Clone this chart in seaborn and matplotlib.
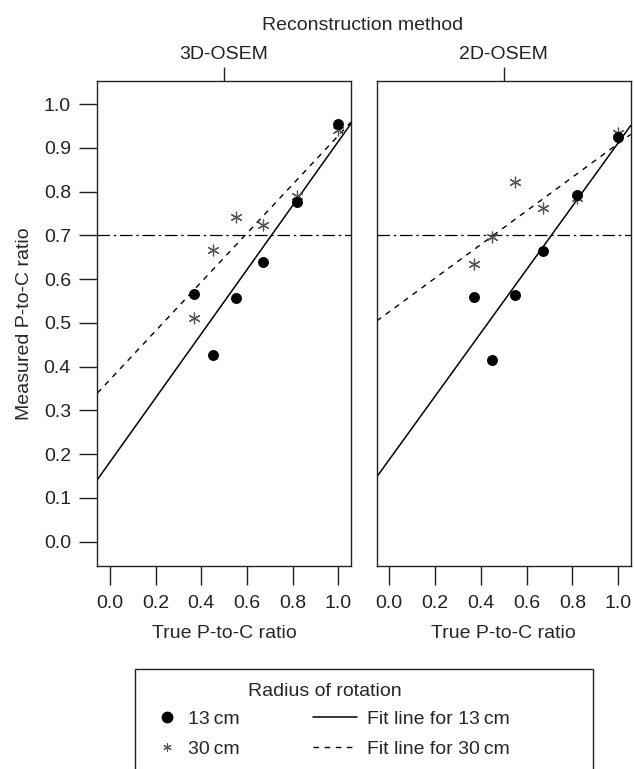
import numpy as np
import pandas as pd
import matplotlib
matplotlib.use("Agg")
import matplotlib.pyplot as plt
from matplotlib.lines import Line2D
from matplotlib.patches import Rectangle
import seaborn as sns

# values
methods = ["3D-OSEM", "2D-OSEM"]
true_ratio = [0.37, 0.45, 0.55, 0.67, 0.82, 1.0]
osem3d_13cm = [0.566, 0.427, 0.557, 0.640, 0.777, 0.954]
osem3d_30cm = [0.511, 0.667, 0.743, 0.724, 0.789, 0.941]
osem2d_13cm = [0.559, 0.414, 0.563, 0.664, 0.793, 0.926]
osem2d_30cm = [0.634, 0.697, 0.823, 0.762, 0.785, 0.935]
reference_ratio = 0.7
y_ticks = [0.0, 0.1, 0.2, 0.3, 0.4, 0.5, 0.6, 0.7, 0.8, 0.9, 1.0]
x_ticks = [0.0, 0.2, 0.4, 0.6, 0.8, 1.0]

df = pd.DataFrame({
    "method": ["3D-OSEM"] * 12 + ["2D-OSEM"] * 12,
    "radius": (["13 cm"] * 6 + ["30 cm"] * 6) * 2,
    "true": true_ratio * 4,
    "measured": osem3d_13cm + osem3d_30cm + osem2d_13cm + osem2d_30cm,
})

sns.set_style("ticks")
plt.rcParams['font.family'] = ['Liberation Sans', 'DejaVu Sans']
plt.rcParams['font.size'] = 14
plt.rcParams['axes.edgecolor'] = '#222222'
plt.rcParams['axes.linewidth'] = 1.0
ink = "#222222"

W, H = 634, 769
fig = plt.figure(figsize=(W / 100, H / 100), dpi=100)
ax1 = fig.add_axes([97.3 / W, 1 - 566 / H, 253.7 / W, 485 / H])
ax2 = fig.add_axes([376.7 / W, 1 - 566 / H, 254 / W, 485 / H])
xlim = (-0.055, 1.055)
ylim = (-0.056, 1.053)

star = (6, 2, 0)
for ax, m in zip([ax1, ax2], methods):
    sub = df[df.method == m]
    r13 = sub[sub.radius == "13 cm"]
    r30 = sub[sub.radius == "30 cm"]
    ax.set_xlim(xlim)
    ax.set_ylim(ylim)
    ax.axhline(reference_ratio, color="black", lw=0.9, ls=(0, (10, 3, 2, 3)))
    sns.regplot(data=r13, x="true", y="measured", ax=ax, ci=None, scatter=False,
                truncate=False, line_kws=dict(color="black", lw=1.1))
    sns.regplot(data=r30, x="true", y="measured", ax=ax, ci=None, scatter=False,
                truncate=False, line_kws=dict(color="black", lw=1.0, ls=(0, (4, 4))))
    sns.scatterplot(data=r30, x="true", y="measured", ax=ax, marker=star,
                    s=60, color="#555555", linewidth=0.9, zorder=3)
    sns.scatterplot(data=r13, x="true", y="measured", ax=ax, marker="o",
                    s=62, color="black", edgecolor="black", linewidth=0, zorder=4)
    ax.set_xlim(xlim)
    ax.set_ylim(ylim)
    ax.set_xticks(x_ticks)
    ax.set_xticklabels([f"{t:.1f}" for t in x_ticks])
    ax.tick_params(axis="x", length=14, width=1.0, pad=7, colors=ink, labelcolor=ink)
    ax.set_xlabel("True P-to-C ratio", labelpad=9)
    ax.set_ylabel("")
    # strip label on top
    sec = ax.secondary_xaxis("top")
    sec.set_xticks([0.5])
    sec.set_xticklabels([m])
    sec.tick_params(axis="x", length=10, width=1.0, pad=3, colors=ink, labelcolor=ink)
    sec.spines["top"].set_visible(False)

ax1.set_yticks(y_ticks)
ax1.set_yticklabels([f"{t:.1f}" for t in y_ticks])
ax1.tick_params(axis="y", length=13, width=1.0, pad=6, colors=ink, labelcolor=ink)
ax1.set_ylabel("Measured P-to-C ratio", labelpad=8)
ax2.set_yticks([])

fig.text(363 / W, 1 - 25 / H, "Reconstruction method", ha="center", va="center", fontsize=14)

# legend box (bottom edge runs off the figure)
fig.patches.append(Rectangle((135 / W, -0.02), (593 - 135) / W, (769 - 669.3) / H + 0.02,
                             transform=fig.transFigure, fill=False, edgecolor=ink, lw=1.0))
fig.text(325 / W, 1 - 692 / H, "Radius of rotation", ha="center", va="center", fontsize=14)

marker_handles = [
    Line2D([], [], ls="none", marker="o", color="black", markersize=7.5),
    Line2D([], [], ls="none", marker=star, color="#555555", markersize=6, markeredgewidth=0.8),
]
line_handles = [
    Line2D([], [], color="black", lw=1.1),
    Line2D([], [], color="black", lw=1.0, ls=(0, (4, 4))),
]
common = dict(frameon=False, loc="upper left", fontsize=14, borderpad=0,
              borderaxespad=0, labelspacing=0.67)
leg_a = fig.legend(marker_handles, ["13\u2009cm", "30\u2009cm"],
                   bbox_to_anchor=(159 / W, 1 - 710 / H),
                   handlelength=0.8, handletextpad=0.7, **common)
leg_b = fig.legend(line_handles, ["Fit line for 13\u2009cm", "Fit line for 30\u2009cm"],
                   bbox_to_anchor=(312.7 / W, 1 - 710 / H),
                   handlelength=2.3, handletextpad=0.48, **common)

fig.savefig("out.png", dpi=100)
